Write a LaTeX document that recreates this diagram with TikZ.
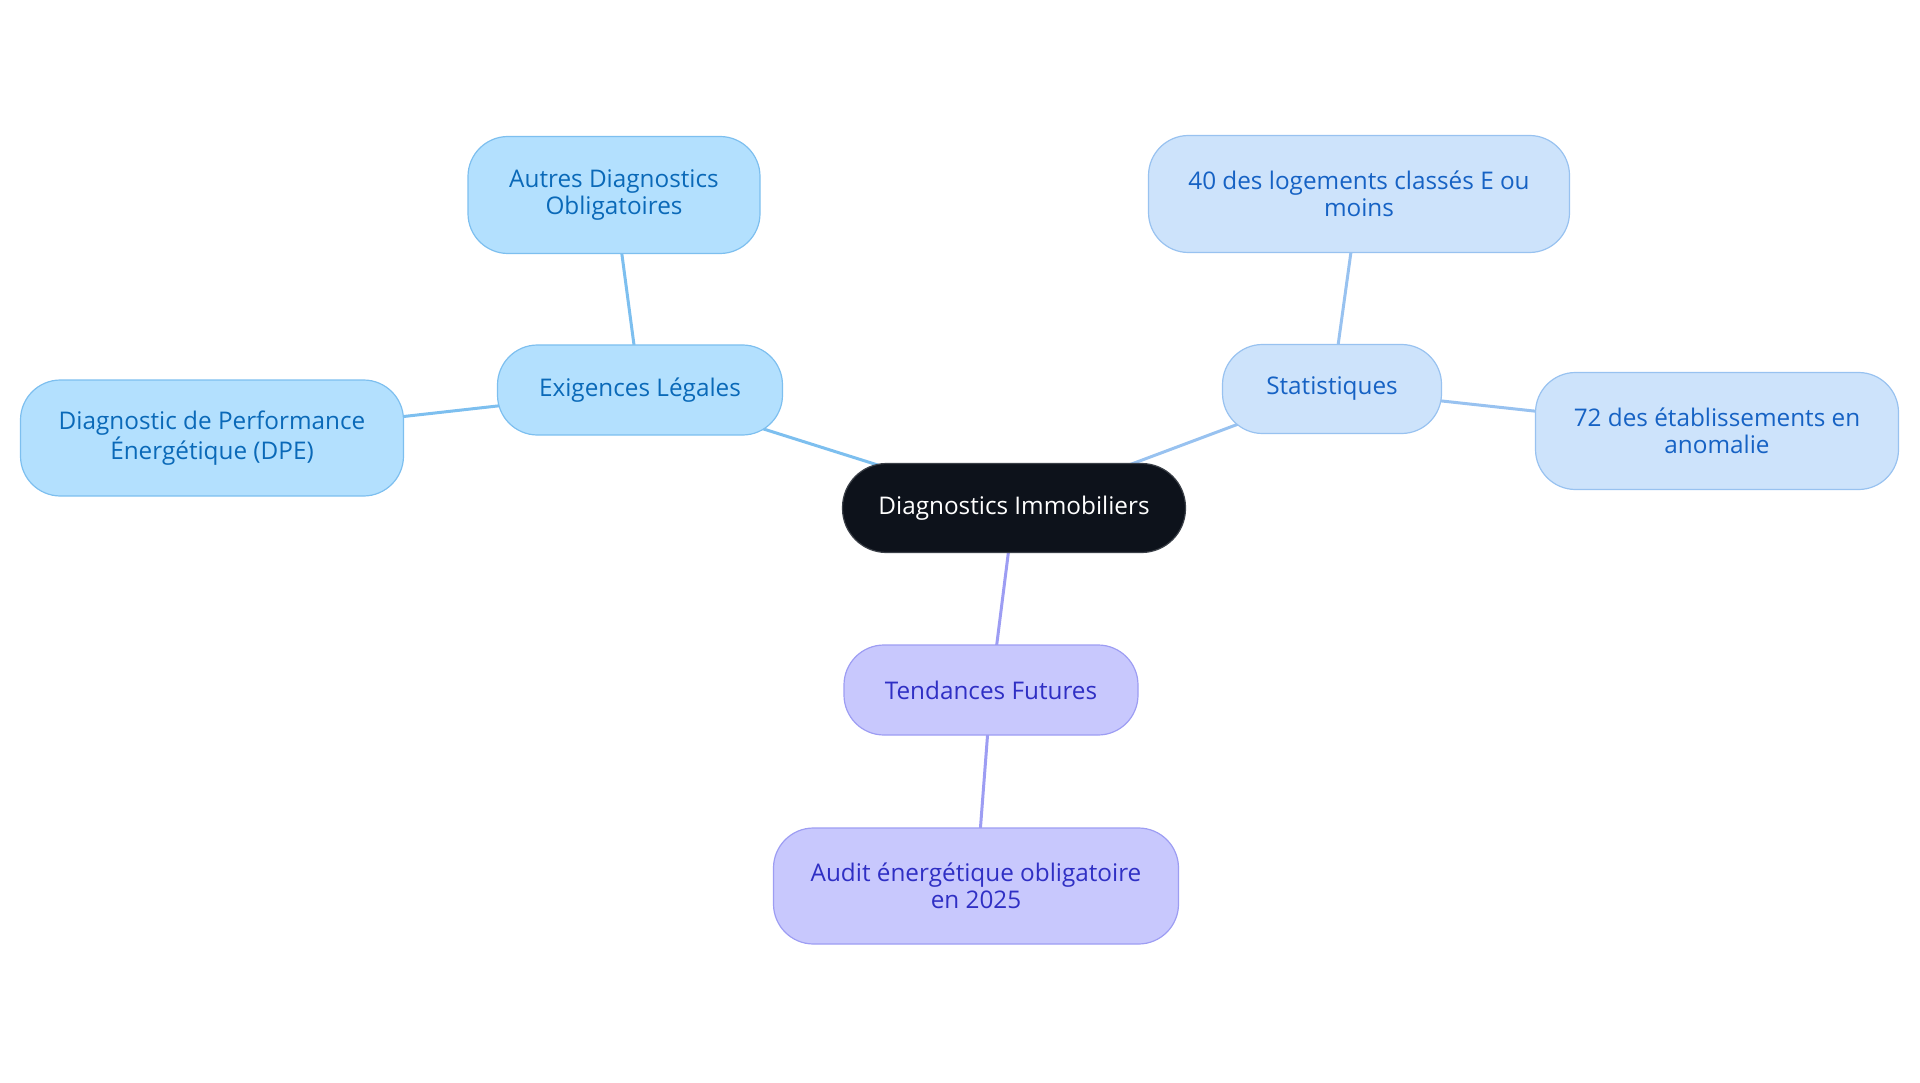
\documentclass[tikz,border=0pt]{standalone}
\usepackage{fontspec}
\setmainfont{Open Sans}
\usetikzlibrary{backgrounds}

\definecolor{rootfill}{HTML}{0D121B}
\definecolor{rootline}{HTML}{3A3F47}
\definecolor{legfill}{HTML}{B3E0FE}
\definecolor{legline}{HTML}{7DBFEF}
\definecolor{legtext}{HTML}{0A69B8}
\definecolor{statfill}{HTML}{CDE3FB}
\definecolor{statline}{HTML}{98C2F0}
\definecolor{stattext}{HTML}{1662C4}
\definecolor{futfill}{HTML}{C8C8FD}
\definecolor{futline}{HTML}{9D9DF3}
\definecolor{futtext}{HTML}{2F2FC4}

\tikzset{
  box/.style={rounded corners=40pt, line width=1.2pt, align=center, inner sep=0pt,
    font=\fontsize{24.3}{27}\selectfont},
  rootbox/.style={box, fill=rootfill, draw=rootline, text=white, rounded corners=44pt},
  legbox/.style={box, fill=legfill, draw=legline, text=legtext},
  statbox/.style={box, fill=statfill, draw=statline, text=stattext},
  futbox/.style={box, fill=futfill, draw=futline, text=futtext},
  link/.style={line width=3pt}
}

\begin{document}
\begin{tikzpicture}[x=1pt,y=-1pt]
\useasboundingbox (0,0) rectangle (1920,1083);

% Centre
\node[rootbox, minimum width=343pt, minimum height=89pt] (root) at (1014,508) {Diagnostics Immobiliers};

% Exigences legales
\node[legbox, minimum width=285pt, minimum height=90pt] (legal) at (640,390) {Exigences Légales};
\node[legbox, minimum width=292pt, minimum height=117pt] (autres) at (614,195) {Autres Diagnostics\\Obligatoires};
\node[legbox, minimum width=383pt, minimum height=116pt] (dpe) at (212,438) {Diagnostic de Performance\\Énergétique (DPE)};

% Statistiques
\node[statbox, minimum width=219pt, minimum height=89pt] (stats) at (1332,389) {Statistiques};
\node[statbox, minimum width=421pt, minimum height=117pt] (logements) at (1359,194) {40 des logements classés E ou\\moins};
\node[statbox, minimum width=363pt, minimum height=117pt] (etab) at (1717,431) {72 des établissements en\\anomalie};

% Tendances futures
\node[futbox, minimum width=294pt, minimum height=90pt] (tendances) at (991,690) {Tendances Futures};
\node[futbox, minimum width=405pt, minimum height=116pt] (audit) at (976,886) {Audit énergétique obligatoire\\en 2025};

% Liens (sous les boites)
\begin{pgfonlayer}{background}
\draw[link, legline] (root.center) -- (legal.center);
\draw[link, legline] (legal.center) -- (autres.center);
\draw[link, legline] (legal.center) -- (dpe.center);
\draw[link, statline] (root.center) -- (stats.center);
\draw[link, statline] (stats.center) -- (logements.center);
\draw[link, statline] (stats.center) -- (etab.center);
\draw[link, futline] (root.center) -- (tendances.center);
\draw[link, futline] (tendances.center) -- (audit.center);
\end{pgfonlayer}

\end{tikzpicture}
\end{document}
